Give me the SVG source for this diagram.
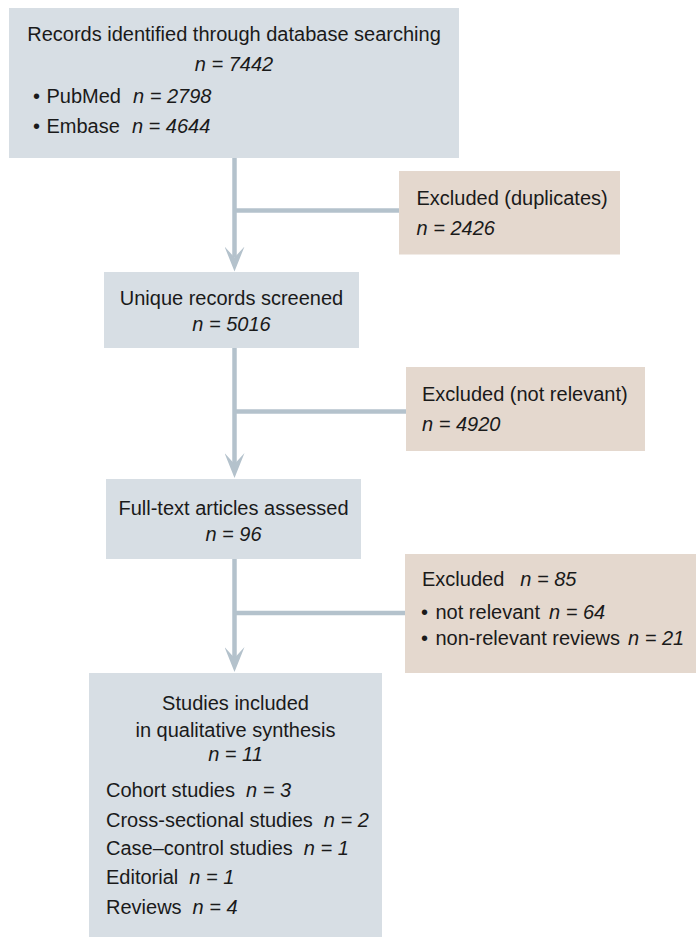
<svg xmlns="http://www.w3.org/2000/svg" width="696" height="938" viewBox="0 0 696 938">
  <style>
    .box { fill: #d7dee4; }
    .exc { fill: #e4d8ce; }
    text { font-family: "Liberation Sans", Arial, sans-serif; font-size: 20px; fill: #1a1a1a; }
    .c { text-anchor: middle; }
    .i { font-style: italic; }
    .conn { stroke: #b4c2cc; stroke-width: 4.5; fill: none; }
  </style>
  <defs>
    <marker id="ah" viewBox="0 0 25 20" refX="11" refY="10" markerWidth="25" markerHeight="20" markerUnits="userSpaceOnUse" orient="auto">
      <path d="M0,0 L25,10 L0,20 L11,10 Z" fill="#b4c2cc"/>
    </marker>
  </defs>

  <g id="connectors">
    <line class="conn" x1="234.5" y1="158" x2="234.5" y2="257.5" marker-end="url(#ah)"/>
    <line class="conn" x1="234.5" y1="210.5" x2="399" y2="210.5"/>
    <line class="conn" x1="234.5" y1="348" x2="234.5" y2="464" marker-end="url(#ah)"/>
    <line class="conn" x1="234.5" y1="411.5" x2="406" y2="411.5"/>
    <line class="conn" x1="234.5" y1="559" x2="234.5" y2="658" marker-end="url(#ah)"/>
    <line class="conn" x1="234.5" y1="613" x2="405" y2="613"/>
  </g>

  <g id="records">
    <rect class="box" x="9" y="8" width="450" height="150"/>
    <text class="c" x="234" y="41">Records identified through database searching</text>
    <text class="c i" x="234" y="71">n = 7442</text>
    <text x="33" y="103">•</text>
    <text x="46.5" y="103">PubMed<tspan class="i" dx="12">n = 2798</tspan></text>
    <text x="33" y="133">•</text>
    <text x="46.5" y="133">Embase<tspan class="i" dx="12">n = 4644</tspan></text>
  </g>

  <g id="excluded-duplicates">
    <rect class="exc" x="399" y="171" width="221" height="83.5"/>
    <text x="416.5" y="205">Excluded (duplicates)</text>
    <text class="i" x="416.5" y="235">n = 2426</text>
  </g>

  <g id="screened">
    <rect class="box" x="104" y="272" width="255" height="76"/>
    <text class="c" x="231.5" y="305">Unique records screened</text>
    <text class="c i" x="231.5" y="331">n = 5016</text>
  </g>

  <g id="excluded-not-relevant">
    <rect class="exc" x="406" y="367" width="239" height="84"/>
    <text x="422" y="401">Excluded (not relevant)</text>
    <text class="i" x="422" y="431">n = 4920</text>
  </g>

  <g id="full-text">
    <rect class="box" x="106" y="479" width="255" height="80"/>
    <text class="c" x="233.5" y="515">Full-text articles assessed</text>
    <text class="c i" x="233.5" y="541">n = 96</text>
  </g>

  <g id="excluded-full-text">
    <rect class="exc" x="405" y="554" width="291" height="119"/>
    <text x="422" y="586">Excluded<tspan class="i" dx="16">n = 85</tspan></text>
    <text x="421" y="619">•</text>
    <text x="435.5" y="619">not relevant<tspan class="i" dx="9">n = 64</tspan></text>
    <text x="421" y="645">•</text>
    <text x="435.5" y="645">non-relevant reviews<tspan class="i" dx="8">n = 21</tspan></text>
  </g>

  <g id="included">
    <rect class="box" x="89" y="673" width="293" height="264"/>
    <text class="c" x="235.5" y="710">Studies included</text>
    <text class="c" x="235.5" y="737">in qualitative synthesis</text>
    <text class="c i" x="235.5" y="761">n = 11</text>
    <text x="106" y="797">Cohort studies<tspan class="i" dx="11">n = 3</tspan></text>
    <text x="106" y="827">Cross-sectional studies<tspan class="i" dx="11">n = 2</tspan></text>
    <text x="106" y="855">Case–control studies<tspan class="i" dx="11">n = 1</tspan></text>
    <text x="106" y="884">Editorial<tspan class="i" dx="11">n = 1</tspan></text>
    <text x="106" y="914">Reviews<tspan class="i" dx="11">n = 4</tspan></text>
  </g>
</svg>
